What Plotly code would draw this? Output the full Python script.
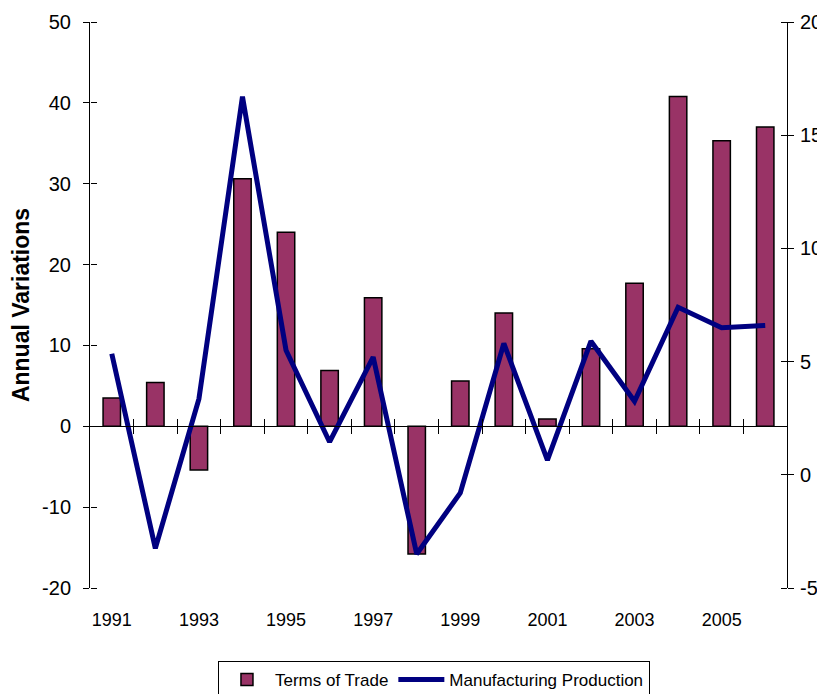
import plotly.graph_objects as go

years = [str(y) for y in range(1991, 2007)]
terms_of_trade = [3.5, 5.4, -5.4, 30.6, 24.0, 6.9, 15.9, -15.8, 5.6, 14.0, 0.9, 9.6, 17.7, 40.8, 35.3, 37.0]
manufacturing = [5.35, -3.25, 3.35, 16.7, 5.5, 1.45, 5.2, -3.5, -0.8, 5.8, 0.65, 5.9, 3.25, 7.4, 6.5, 6.6]
x_tick_labels = [str(y) for y in range(1991, 2007, 2)]
left_ticks = [-20, -10, 0, 10, 20, 30, 40, 50]
right_ticks = [-5, 0, 5, 10, 15, 20]

left_range = [-20, 50]
right_range = [-5, 20]
font_family = "Liberation Sans, Arial, sans-serif"

n = len(years)
idx = list(range(n))
zero_pos = (0 - left_range[0]) / (left_range[1] - left_range[0])

fig = go.Figure()
fig.add_trace(go.Bar(
    x=idx, y=terms_of_trade, name="Terms of Trade",
    marker=dict(color="#993366", line=dict(color="black", width=1.5)),
    width=0.4, xaxis="x", yaxis="y",
))
fig.add_trace(go.Scatter(
    x=idx, y=manufacturing, name="Manufacturing Production",
    mode="lines", line=dict(color="#000080", width=5),
    xaxis="x", yaxis="y2",
))
# helper empty traces so overlay axes are drawn
fig.add_trace(go.Scatter(x=[], y=[], xaxis="x3", yaxis="y", showlegend=False))
fig.add_trace(go.Scatter(x=[], y=[], xaxis="x4", yaxis="y3", showlegend=False))
fig.add_trace(go.Scatter(x=[], y=[], xaxis="x", yaxis="y4", showlegend=False))

boundaries = [i + 0.5 for i in range(n - 1)]
xr = [-0.5, n - 0.5]

fig.update_layout(
    width=817, height=710,
    margin=dict(l=82, r=38, t=14, b=130),
    paper_bgcolor="white", plot_bgcolor="white",
    font=dict(family=font_family, color="black"),
    bargap=0.6,
    showlegend=True,
    legend=dict(
        orientation="h", x=0.4935, xanchor="center", y=-0.129, yanchor="top",
        bordercolor="black", borderwidth=1, font=dict(size=17),
        itemwidth=46, tracegroupgap=0,
    ),
    xaxis=dict(
        range=xr, tickmode="array", tickvals=[i for i in idx if i % 2 == 0],
        ticktext=x_tick_labels, showline=False, ticks="", showgrid=False,
        zeroline=False, tickfont=dict(size=18), ticklabelstandoff=19,
        automargin=False,
    ),
    xaxis3=dict(
        overlaying="x", anchor="free", position=zero_pos, side="bottom",
        range=xr, tickmode="array", tickvals=boundaries, showticklabels=False,
        showline=True, linecolor="black", linewidth=1, ticks="outside",
        ticklen=7, tickcolor="black", showgrid=False, zeroline=False,
        automargin=False,
    ),
    xaxis4=dict(
        overlaying="x", anchor="free", position=zero_pos, side="top",
        range=xr, tickmode="array", tickvals=boundaries, showticklabels=False,
        showline=False, ticks="outside", ticklen=7, tickcolor="black",
        showgrid=False, zeroline=False, automargin=False,
    ),
    yaxis=dict(
        range=left_range, tickmode="array", tickvals=left_ticks,
        ticktext=[str(v) for v in left_ticks],
        showline=True, linecolor="black",
        linewidth=1, ticks="outside", ticklen=6, tickcolor="black",
        showgrid=False, zeroline=False, tickfont=dict(size=20),
        ticklabelstandoff=8, automargin=False,
        title=dict(text="<b>Annual Variations</b>", font=dict(size=23), standoff=12),
    ),
    yaxis3=dict(
        overlaying="y", anchor="free", position=0, side="right",
        range=left_range, tickmode="array", tickvals=left_ticks,
        showticklabels=False, ticks="outside",
        ticklen=6, tickcolor="black", showline=False, showgrid=False,
        zeroline=False, automargin=False,
    ),
    yaxis2=dict(
        overlaying="y", side="right", anchor="x", range=right_range,
        tickmode="array", tickvals=right_ticks,
        ticktext=[str(v) for v in right_ticks],
        showline=True, linecolor="black", linewidth=1, ticks="outside",
        ticklen=6, tickcolor="black", showgrid=False, zeroline=False,
        tickfont=dict(size=20), ticklabelstandoff=2, automargin=False,
    ),
    yaxis4=dict(
        overlaying="y", anchor="free", position=1, side="left",
        range=right_range, tickmode="array", tickvals=right_ticks,
        showticklabels=False, ticks="outside",
        ticklen=6, tickcolor="black", showline=False, showgrid=False,
        zeroline=False, automargin=False,
    ),
)

fig.write_html("out.html")
